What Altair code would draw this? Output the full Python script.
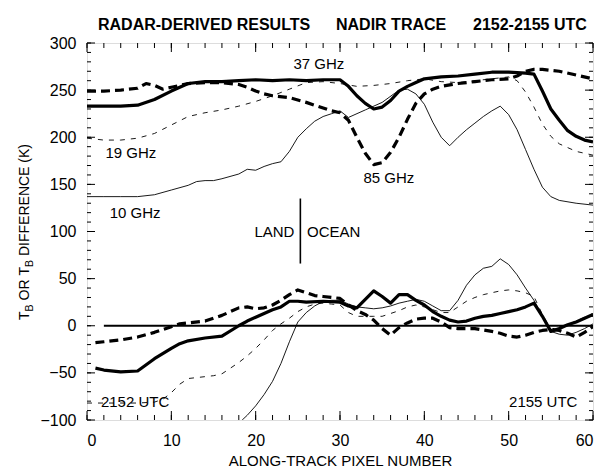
import altair as alt
import pandas as pd

# plot-area size in pixels
W, H = 506, 377
FONT = "Liberation Sans"

# ---------------- brightness temperatures (K), nadir trace ----------------
px_37 = [0, 2, 4, 6, 8, 10, 12, 14, 16, 18, 20, 22, 24, 26, 28, 30, 31, 32, 33, 34,
         35, 36, 37, 38, 39, 40, 42, 44, 46, 48, 50, 52, 53, 54, 55, 56, 57, 58, 59, 60]
tb_37 = [233, 233, 233, 234, 240, 249, 257, 259, 259, 260, 261, 260, 261, 260, 261, 261, 254, 244, 236, 230,
         232, 239, 249, 254, 258, 262, 264, 265, 267, 269, 269, 268, 267, 249, 230, 218, 207, 201, 197, 195]

px_85 = [0, 2, 4, 6, 7, 8, 9, 10, 12, 14, 16, 18, 19, 20, 21, 22, 24, 26, 28, 29, 30, 31, 32,
         33, 34, 35, 36, 37, 38, 39, 40, 41, 42, 44, 46, 48, 50, 51, 52, 53, 54, 55, 56, 58, 60]
tb_85 = [249, 249, 250, 252, 257, 255, 251, 253, 257, 258, 258, 256, 253, 249, 246, 244, 242, 237, 231, 228, 226, 218, 200,
         183, 171, 173, 184, 200, 219, 236, 246, 251, 254, 257, 259, 261, 262, 265, 270, 272, 272, 271, 270, 266, 262]

px_19 = [0, 2, 4, 6, 8, 10, 12, 14, 16, 18, 20, 22, 24, 26, 28, 30, 32, 34, 36, 38, 40, 42, 44,
         46, 48, 50, 51, 52, 53, 54, 55, 56, 58, 60]
tb_19 = [199, 197, 197, 199, 204, 213, 222, 226, 229, 233, 238, 244, 251, 258, 259, 257, 254, 255, 257, 260, 262, 259, 258,
         260, 262, 264, 260, 248, 232, 214, 201, 193, 185, 181]

px_10 = [0, 2, 4, 6, 8, 10, 12, 13, 14, 15, 16, 18, 19, 20, 21, 22, 23, 24, 25, 26, 27, 28, 29, 30, 31,
         33, 35, 37, 38, 39, 40, 41, 42, 43, 44, 45, 46, 47, 48, 49, 50, 51, 52, 53, 54, 55, 56, 58, 60]
tb_10 = [137, 137, 137, 137, 139, 144, 149, 153, 154, 154, 156, 161, 166, 165, 169, 172, 174, 185, 200, 209, 217, 222, 225, 228, 221,
         229, 237, 250, 251, 246, 235, 216, 200, 191, 200, 208, 215, 222, 228, 233, 224, 208, 187, 166, 147, 137, 133, 130, 128]

# ---------------- TB differences (K) ----------------
dpx_37 = [1, 2, 4, 6, 8, 10, 11, 12, 14, 16, 18, 19, 20, 21, 22, 23, 24, 25, 26, 28, 30, 31, 32, 33, 34, 35,
          36, 37, 38, 39, 40, 41, 42, 43, 44, 45, 46, 47, 48, 49, 50, 51, 52, 53, 54, 55, 56, 57, 58, 59, 60]
dtb_37 = [-45, -47, -49, -48, -35, -24, -19, -16, -13, -11, 0, 5, 9, 13, 17, 20, 26, 26, 25, 26, 25, 21, 19, 28, 37, 31,
          24, 33, 33, 27, 22, 15, 10, 6, 4, 5, 8, 10, 11, 13, 15, 17, 20, 24, 10, -6, -3, 1, 4, 8, 12]

dpx_85 = [1, 2, 4, 6, 8, 10, 11, 12, 14, 16, 17, 18, 19, 20, 21, 22, 23, 24, 25, 26, 27, 28, 30, 31, 32, 33, 34, 35,
          36, 37, 38, 39, 40, 41, 42, 43, 44, 46, 48, 49, 50, 51, 52, 53, 54, 55, 56, 57, 58, 59, 60]
dtb_85 = [-18, -17, -15, -12, -7, -1, 2, 3, 5, 11, 15, 19, 20, 18, 19, 22, 27, 33, 38, 35, 32, 31, 29, 22, 16, 12, 6, -3,
          -10, -2, 3, 7, 8, 8, 4, -2, -3, -3, -6, -8, -11, -12, -10, -7, -5, -4, -5, -8, -12, -7, -1]

dpx_19 = [0, 2, 4, 6, 8, 9, 10, 11, 12, 13, 14, 15, 16, 17, 18, 19, 20, 21, 22, 23, 24, 25, 26, 27, 28, 29, 30,
          31, 32, 33, 34, 35, 36, 37, 38, 39, 40, 41, 42, 43, 44, 45, 46, 47, 48, 49, 50, 51, 52, 53, 54, 55,
          56, 57, 58, 59, 60]
dtb_19 = [-82, -82, -82, -82, -81, -78, -71, -62, -56, -55, -54, -53, -51, -45, -39, -32, -24, -15, -5, 2, 8, 15, 20, 23, 24, 23, 22,
          14, 10, 10, 10, 10, 13, 16, 20, 22, 20, 17, 14, 14, 20, 26, 30, 33, 35, 37, 38, 37, 35, 31, 12, -4,
          -1, 1, 5, 9, 13]

dpx_10 = [18.4, 19, 20, 21, 22, 23, 24, 25, 26, 27, 28, 29, 30, 31, 32, 33, 34, 35, 36, 37, 38, 39, 40, 41,
          42, 43, 44, 45, 46, 47, 48, 49, 50, 51, 52, 53, 54, 55, 56, 57, 58, 59, 60]
dtb_10 = [-100, -95, -85, -73, -59, -40, -17, 4, 14, 21, 26, 27, 27, 23, 20, 19, 18, 19, 21, 24, 26, 28, 26, 21,
          16, 16, 27, 43, 54, 61, 63, 71, 65, 54, 40, 27, 10, -6, -9, -10, -7, -3, 2]

# zero-difference reference line
zero_px = [2, 60]
zero_tb = [0, 0]

# land / ocean boundary marker
coast_px = [25.3]
coast_lo = [66]
coast_hi = [135]

# axis tick positions
x_labels = list(range(0, 61, 10))
x_minor = list(range(0, 61, 2))
y_labels = list(range(-100, 301, 50))
y_minor = list(range(-100, 301, 10))

X_SCALE = alt.Scale(domain=[0, 60], nice=False, zero=False)
Y_SCALE = alt.Scale(domain=[-100, 300], nice=False, zero=False)

x_axis = alt.Axis(values=x_labels, ticks=False, domain=False, grid=False,
                  labelFont=FONT, labelFontSize=16, labelColor="black", labelPadding=12,
                  title="ALONG-TRACK PIXEL NUMBER", titleFont=FONT, titleFontSize=15,
                  titleFontWeight="normal", titleColor="black", titlePadding=5)
y_axis = alt.Axis(values=y_labels, ticks=False, domain=False, grid=False,
                  labelFont=FONT, labelFontSize=16, labelColor="black", labelPadding=11,
                  title=None)


def xq(field):
    return alt.X(field, type="quantitative", scale=X_SCALE, axis=x_axis)


def yq(field):
    return alt.Y(field, type="quantitative", scale=Y_SCALE, axis=y_axis)


def trace(xs, vs, width, dash=None):
    df = pd.DataFrame({"px": xs, "tb": vs})
    opts = dict(color="black", strokeWidth=width, clip=True, strokeJoin="round")
    if dash:
        opts["strokeDash"] = dash
    return alt.Chart(df).mark_line(**opts).encode(x=xq("px"), y=yq("tb"))


THICK_DASH = [9, 5]
THIN_DASH = [5, 6]

lines = [
    trace(px_10, tb_10, 0.9),
    trace(px_19, tb_19, 0.9, THIN_DASH),
    trace(px_85, tb_85, 3.2, THICK_DASH),
    trace(px_37, tb_37, 3.2),
    trace(dpx_10, dtb_10, 0.9),
    trace(dpx_19, dtb_19, 0.9, THIN_DASH),
    trace(dpx_85, dtb_85, 3.2, THICK_DASH),
    trace(dpx_37, dtb_37, 3.2),
    trace(zero_px, zero_tb, 2.0),
]

coast = alt.Chart(pd.DataFrame({"px": coast_px, "lo": coast_lo, "hi": coast_hi})).mark_rule(
    color="black", strokeWidth=1.6).encode(x=xq("px"), y=yq("lo"), y2="hi")


# inward ticks on all four sides of the frame
def xticks(vals, length):
    df = pd.DataFrame({"t": vals})
    bottom = alt.Chart(df).mark_rule(color="black", strokeWidth=1).encode(
        x=xq("t"), y=alt.value(H), y2=alt.value(H - length))
    top = alt.Chart(df).mark_rule(color="black", strokeWidth=1).encode(
        x=xq("t"), y=alt.value(0), y2=alt.value(length))
    return [bottom, top]


def yticks(vals, length):
    df = pd.DataFrame({"t": vals})
    left = alt.Chart(df).mark_rule(color="black", strokeWidth=1).encode(
        y=yq("t"), x=alt.value(0), x2=alt.value(length))
    right = alt.Chart(df).mark_rule(color="black", strokeWidth=1).encode(
        y=yq("t"), x=alt.value(W), x2=alt.value(W - length))
    return [left, right]


ticks = xticks(x_minor, 5) + xticks(x_labels, 9) + yticks(y_minor, 4) + yticks(y_labels, 8)


# curve annotations in data coordinates
def note(x, y, label, align="center", size=15):
    df = pd.DataFrame({"px": [x], "tb": [y], "label": [label]})
    return alt.Chart(df).mark_text(font=FONT, fontSize=size, color="black", align=align,
                                   baseline="middle").encode(x=xq("px"), y=yq("tb"), text="label:N")


notes = [
    note(27.5, 278, "37 GHz"),
    note(5.2, 183, "19 GHz"),
    note(5.7, 120, "10 GHz"),
    note(35.8, 157, "85 GHz"),
    note(24.6, 99, "LAND", "right"),
    note(26.1, 99, "OCEAN", "left"),
    note(5.7, -81, "2152 UTC"),
    note(54.1, -81, "2155 UTC"),
]


# text placed in pixel coordinates relative to the plot origin
def place(label, x, y, size, weight="normal", angle=0, align="left", baseline="alphabetic"):
    df = pd.DataFrame({"label": [label]})
    opts = dict(font=FONT, fontSize=size, fontWeight=weight, color="black",
                align=align, baseline=baseline)
    if angle:
        opts["angle"] = angle
    return alt.Chart(df).mark_text(**opts).encode(x=alt.value(x), y=alt.value(y), text="label:N")


# chart heading in three groups
heading = [
    place("RADAR-DERIVED RESULTS", 11, -13, 16, "bold"),
    place("NADIR TRACE", 249, -13, 16, "bold"),
    place("2152-2155 UTC", 386, -13, 16, "bold"),
]

# vertical axis title with subscripted B, centred on the axis
YT = -58      # baseline of the rotated title
y_title = [
    place("T", YT, 277, 14, angle=270),
    place("B", YT + 4, 268.4, 10.5, angle=270),
    place("OR", YT, 257.5, 14, angle=270),
    place("T", YT, 232.6, 14, angle=270),
    place("B", YT + 4, 224, 10.5, angle=270),
    place("DIFFERENCE (K)", YT, 213, 14, angle=270),
]

chart = alt.layer(*lines, coast, *ticks, *notes, *heading, *y_title).properties(
    width=W, height=H,
    autosize=alt.AutoSizeParams(type="none"),
    padding={"left": 87, "top": 43, "right": 12, "bottom": 51},
).configure_view(stroke="black", strokeWidth=1.2).configure(background="white")

chart.save("out.html", embed_options={"renderer": "svg", "actions": False})
